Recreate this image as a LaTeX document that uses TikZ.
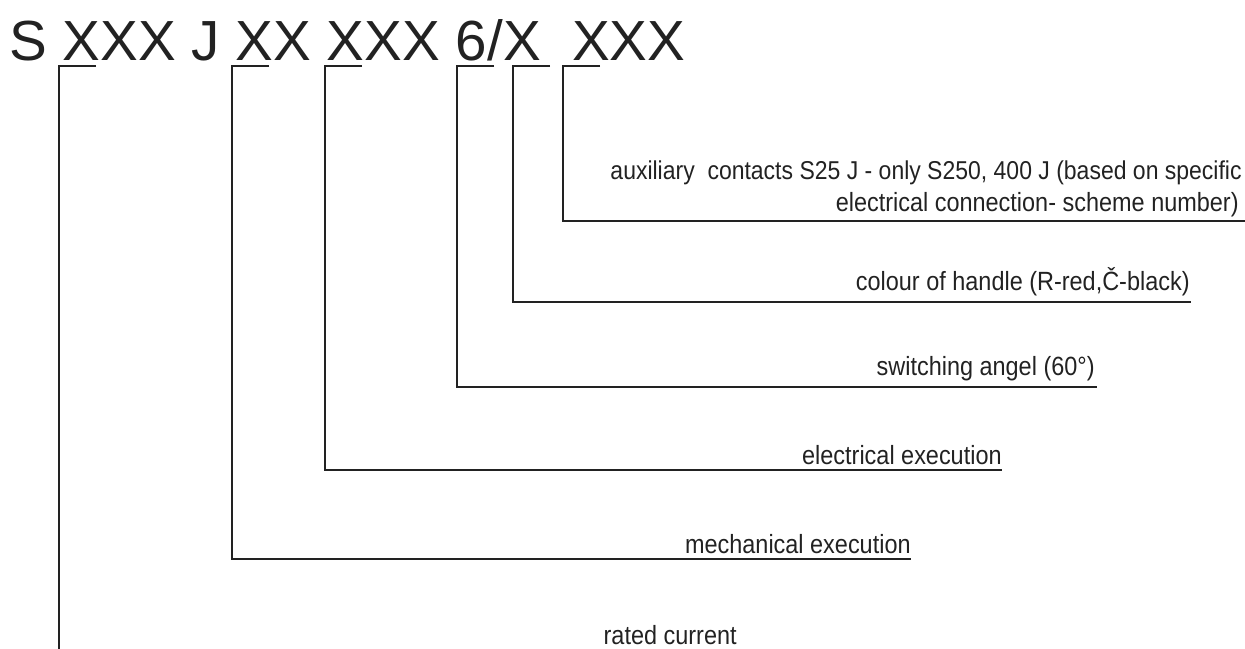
\documentclass[tikz,border=0pt]{standalone}
\usepackage{fontspec}
\setmainfont{Liberation Sans}
\newfontfamily\descfont[FakeStretch=0.89]{Liberation Sans}
\usetikzlibrary{positioning,calc}
\definecolor{inkgray}{HTML}{222222}

\begin{document}
\begin{tikzpicture}[x=0.02cm, y=-0.02cm,
    lead/.style={draw=inkgray, line width=1.1pt},
    desc/.style={anchor=base east, inner sep=0pt, text=inkgray,
        font=\descfont\fontsize{15}{18}\selectfont}]
    \useasboundingbox (0,0) rectangle (1245,649);

    % Type code
    \node[anchor=base west, inner sep=0pt, text=inkgray,
        font=\fontsize{32.2}{38}\selectfont] (code) at (9,60)
        {S XXX J XX XXX 6/X\ \ XXX};

    % Tick points under the code
    \coordinate (t1) at (59,66);
    \coordinate (t2) at (232,66);
    \coordinate (t3) at (325,66);
    \coordinate (t4) at (457,66);
    \coordinate (t5) at (513,66);
    \coordinate (t6) at (563,66);

    % Ends of the leader lines
    \coordinate (e1) at (59,649);
    \coordinate (e2) at (911,559);
    \coordinate (e3) at (1002,470);
    \coordinate (e4) at (1097,387);
    \coordinate (e5) at (1191,302);
    \coordinate (e6) at (1245,221);

    % Leader lines
    \draw[lead] ($(t1)+(37,0)$) -- (t1) -- (e1);
    \draw[lead] ($(t2)+(37,0)$) -- (t2) |- (e2);
    \draw[lead] ($(t3)+(37,0)$) -- (t3) |- (e3);
    \draw[lead] ($(t4)+(37,0)$) -- (t4) |- (e4);
    \draw[lead] ($(t5)+(37,0)$) -- (t5) |- (e5);
    \draw[lead] ($(t6)+(37,0)$) -- (t6) |- (e6);

    % Descriptions
    \node[desc] (rated) at (737,644) {rated current};
    \node[desc] (mech) at (911,553) {mechanical execution};
    \node[desc] (elec) at (1002,464) {electrical execution};
    \node[desc] (angle) at (1095,375) {switching angel (60°)};
    \node[desc] (handle) at (1190,290) {colour of handle (R-red,Č-black)};
    \node[desc, font=\descfont\fontsize{14.7}{18}\selectfont] (aux) at (1242,179)
        {auxiliary\ \ contacts S25 J - only S250, 400 J (based on specific};
    \node[desc] (auxb) at (1239,211) {electrical connection- scheme number)};
\end{tikzpicture}
\end{document}
